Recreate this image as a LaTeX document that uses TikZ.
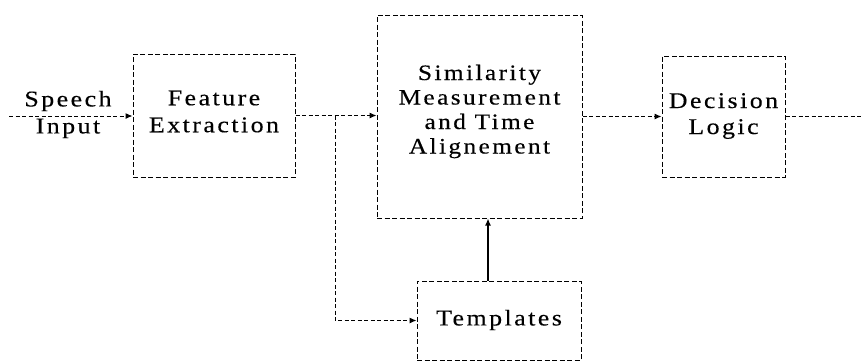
\documentclass[tikz,border=0pt]{standalone}
\usepackage{fontspec}
\setmainfont{Liberation Serif}[LetterSpace=11, FakeStretch=1.15, FakeBold=0.3]
\usetikzlibrary{arrows.meta}
\begin{document}
\begin{tikzpicture}[x=1pt,y=-1pt,
  box/.style={draw, dash pattern=on 5pt off 2.5pt, line width=1pt, inner sep=0pt},
  txt/.style={align=center, inner sep=0pt, font=\fontsize{22.5}{27}\selectfont},
  conn/.style={draw, dash pattern=on 4pt off 2.5pt, line width=1pt},
  tip/.style={-{Latex[length=7pt,width=6pt]}}]
\useasboundingbox (0,0) rectangle (862,362);
% boxes
\node[box, minimum width=162pt, minimum height=123pt] (fe) at (214,115.5) {};
\node[txt] (fet) at (214,111.5) {Feature\\Extraction};
\node[box, minimum width=205pt, minimum height=203pt] (sim) at (479.5,116.5) {};
\node[txt, font=\fontsize{22}{24.5}\selectfont] (simt) at (479.5,111.5) {Similarity\\Measurement\\and Time\\Alignement};
\node[box, minimum width=123pt, minimum height=121pt] (dec) at (723.5,116.5) {};
\node[txt, font=\fontsize{22.5}{26}\selectfont] (dect) at (723.5,116) {Decision\\Logic};
\node[box, minimum width=164pt, minimum height=79pt] (tpl) at (499,320.5) {};
\node[txt] (tplt) at (499,320) {Templates};
\node[txt] (in) at (68,114.5) {Speech\\Input};
% helper coordinates
\coordinate (start) at (9,116);
\coordinate (stop) at (862,116);
\coordinate (br0) at (335,0);
\coordinate (up0) at (488,0);
% connectors
\draw[conn, tip] (start) -- (start -| fe.west);
\draw[conn, tip] (fe.east) -- (fe.east -| sim.west);
\draw[conn, tip] (br0 |- fe.east) |- (tpl.west);
\draw[line width=1.2pt, tip] (up0 |- tpl.north) -- (up0 |- sim.south);
\draw[conn, tip] (sim.east) -- (sim.east -| dec.west);
\draw[conn] (dec.east) -- (stop |- dec.east);
\end{tikzpicture}
\end{document}
